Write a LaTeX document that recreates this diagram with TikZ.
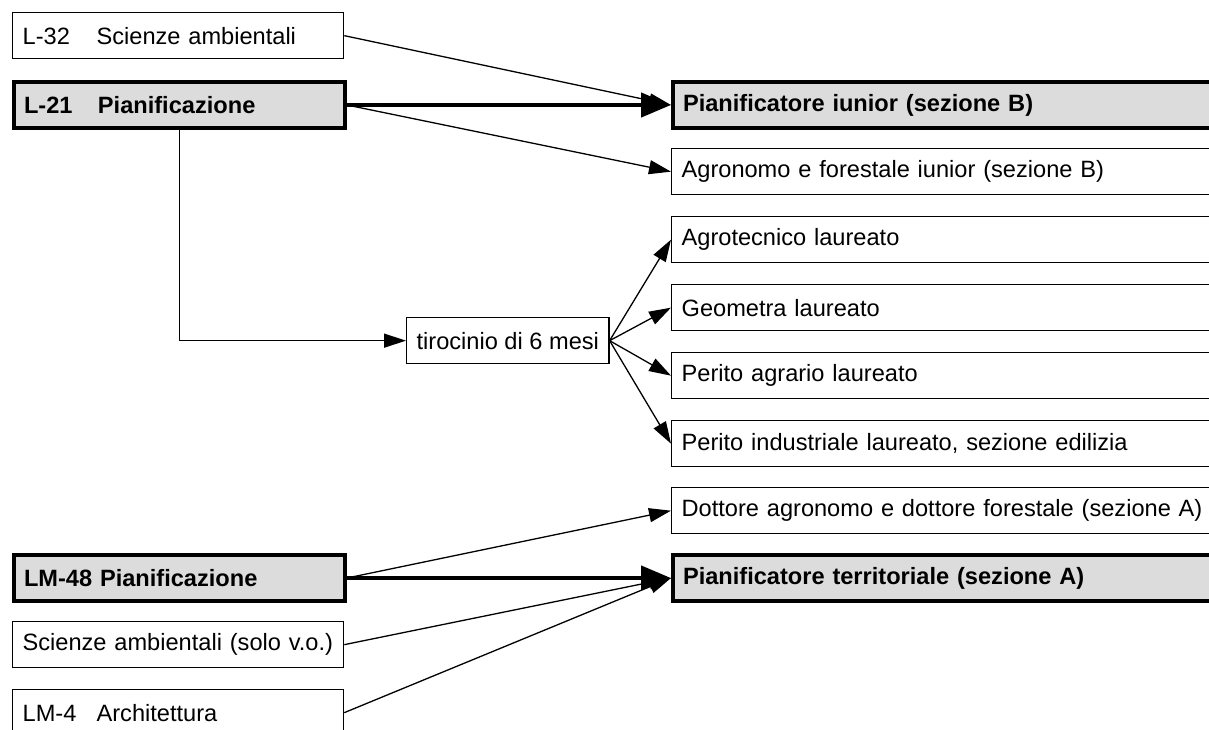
\documentclass[tikz,border=0pt]{standalone}
\usepackage{fontspec}
\setmainfont{Liberation Sans}
\usetikzlibrary{arrows.meta}
\definecolor{keygray}{HTML}{DCDCDC}
\newcommand{\boxfont}{\fontsize{23.6}{28}\selectfont}
\tikzset{
  cls/.style={draw, line width=1.3pt, fill=white, anchor=north west,
    minimum height=46pt, inner ysep=0pt, inner xsep=10pt, font=\boxfont},
  leftbox/.style={cls, text width=311pt, align=left},
  rightbox/.style={cls, text width=540pt, align=left},
  keybox/.style={line width=4pt, fill=keygray, font=\boxfont\bfseries},
  thin/.style={line width=1.3pt, -{Triangle[length=22pt,width=14pt]}},
  thick/.style={line width=4.5pt, -{Triangle[length=30pt,width=24pt]}}
}
\newcommand{\tabbed}[2]{\makebox[74pt][l]{#1}#2}
\begin{document}
\begin{tikzpicture}[x=1pt, y=-1pt]
      \path[use as bounding box, clip] (0,0) rectangle (1209,729);
      % classi di laurea
      \path
        (12,12) node[leftbox] (l32){\tabbed{L-32}{Scienze ambientali}}
        (12,80) node[leftbox, keybox] (l21){\tabbed{L-21}{Pianificazione}}
        (12,553) node[leftbox, keybox] (lm48){LM-48 Pianificazione}
        (12,621) node[leftbox] (scvo){Scienze ambientali (solo v.o.)}
        (12,689) node[leftbox] (lm4){\tabbed{LM-4}{Architettura}};
      \path (406,317) node[cls] (tir){tirocinio di 6 mesi};
      % albi professionali
      \path
        (671,80) node[rightbox, keybox] (pianB){Pianificatore iunior (sezione B)}
        (671,148) node[rightbox] (agroB){Agronomo e forestale iunior (sezione B)}
        (671,216) node[rightbox] (agrotec){Agrotecnico laureato}
        (671,284) node[rightbox] (geom){Geometra laureato}
        (671,352) node[rightbox] (perag){Perito agrario laureato}
        (671,420) node[rightbox] (perind){Perito industriale laureato, sezione edilizia}
        (671,487) node[rightbox] (dott){Dottore agronomo e dottore forestale (sezione A)}
        (671,553) node[rightbox, keybox] (pianA){Pianificatore territoriale (sezione A)};
      \begin{scope}[thin]
        \draw (l32.east) to (pianB.west);
        \draw (l21.east) to (agroB.west);
        \draw (l21.south) |- (tir.west);
        \draw (tir.east) to (agrotec.west);
        \draw (tir.east) to (geom.west);
        \draw (tir.east) to (perag.west);
        \draw (tir.east) to (perind.west);
        \draw (lm48.east) to (dott.west);
        \draw (scvo.east) to (pianA.west);
        \draw (lm4.east) to (pianA.west);
      \end{scope}
      \begin{scope}[thick]
        \draw (l21.east) to (pianB.west);
        \draw (lm48.east) to (pianA.west);
      \end{scope}
    \end{tikzpicture}
\end{document}
